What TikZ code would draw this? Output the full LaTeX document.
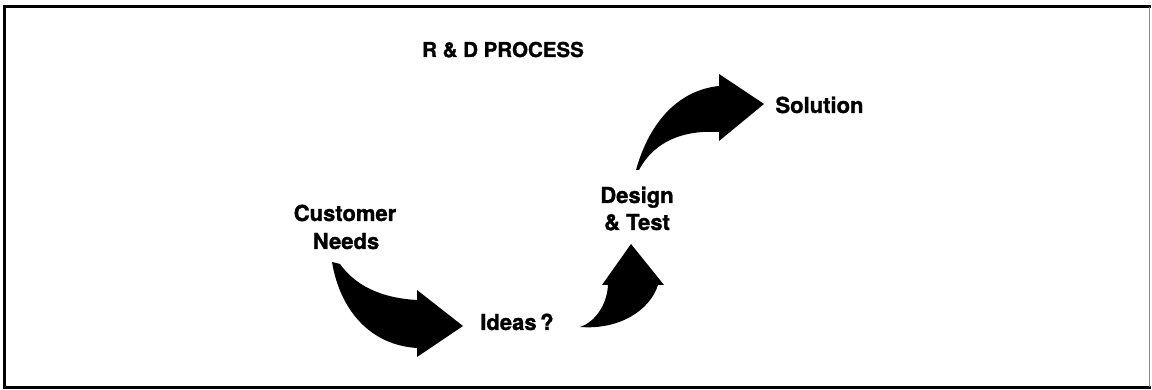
\documentclass[tikz,border=0pt]{standalone}
\usepackage{fontspec}
\setmainfont{TeX Gyre Heros}[BoldFeatures={FakeBold=1.2}]
\begin{document}
\begin{tikzpicture}[x=1pt,y=-1pt,
  label/.style={font=\fontsize{22}{24}\selectfont\bfseries, inner sep=0pt, anchor=base, align=center},
  heading/.style={font=\fontsize{20.5}{22}\selectfont\bfseries, inner sep=0pt, anchor=base},
  fatarrow/.style={fill=black, draw=none},
  frame/.style={line width=3pt, line cap=rect}]
\useasboundingbox (0,0) rectangle (1152,390);

% outer frame
\draw[frame] (1149,7) -- (4,7) -- (4,387) -- (1149,387);
\draw[line width=0.8pt, black!45] (1149,7) -- (1149,387);

% title and stage labels
\node[heading] (title) at (503,57) {R \& D PROCESS};
\node[label] (cust1) at (345,221) {Customer};
\node[label] (cust2) at (346,249) {Needs};
\node[label] (ideas) at (517,330) {Ideas\,?};
\node[label] (des1) at (637,203) {Design};
\node[label] (des2) at (637,230) {\& Test};
\node[label] (sol) at (819.5,113) {Solution};

% curved arrow: Customer Needs -> Ideas?
\fill[fatarrow] (332,262) .. controls (340,310) and (370,345) .. (417,348)
  -- (417,357) -- (463,326) -- (417,290) -- (417,300)
  .. controls (380,298) and (355,285) .. (340,264) -- cycle;

% curved arrow: Ideas? -> Design & Test
\fill[fatarrow] (580,327) .. controls (620,330) and (650,310) .. (658,285)
  -- (664,285) -- (631,244) -- (602,285) -- (608,285)
  .. controls (607,305) and (595,322) .. (580,327) -- cycle;

% curved arrow: Design & Test -> Solution
\fill[fatarrow] (636,170) .. controls (650,120) and (680,90) .. (719,86)
  -- (719,74) -- (764,104) -- (719,141) -- (719,132)
  .. controls (685,130) and (655,140) .. (639,170) -- cycle;
\end{tikzpicture}
\end{document}
